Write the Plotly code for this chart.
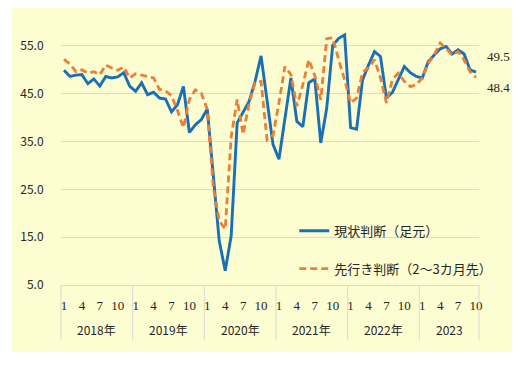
import plotly.graph_objects as go

# ---- data ----
years = ["2018年", "2019年", "2020年", "2021年", "2022年", "2023"]
months_per_year = [12, 12, 12, 12, 12, 10]
shown_months = [1, 4, 7, 10]

genjo = [  # 現状判断（足元）
    49.9, 48.6, 48.9, 49.0, 47.1, 48.1, 46.6, 48.6, 48.3, 48.5, 49.4, 46.6,
    45.5, 47.3, 44.8, 45.3, 44.1, 43.9, 41.2, 42.7, 46.5, 36.9, 38.5, 39.6,
    41.8, 28.0, 14.2, 8.0, 15.3, 38.9, 41.0, 43.4, 47.6, 52.9, 43.7, 34.4,
    31.3, 39.6, 48.3, 39.2, 38.1, 47.3, 48.1, 34.7, 42.0, 55.1, 56.6, 57.3,
    37.9, 37.6, 47.9, 51.0, 53.8, 52.8, 44.1, 45.3, 47.9, 50.7, 49.4, 48.6,
    48.3, 51.7, 53.1, 54.4, 54.9, 53.3, 54.2, 53.3, 50.0, 49.5,
]
sakiyuki = [  # 先行き判断（2～3カ月先）
    52.2, 51.2, 49.6, 50.0, 49.3, 49.6, 49.0, 51.0, 50.4, 49.9, 50.6, 48.3,
    49.2, 48.9, 48.5, 48.3, 45.9, 45.6, 44.6, 41.5, 37.9, 43.8, 45.8, 45.1,
    41.7, 25.5, 18.4, 16.7, 36.0, 43.8, 36.5, 43.0, 47.3, 47.6, 35.4, 36.3,
    43.1, 50.7, 49.0, 42.4, 46.9, 52.1, 48.8, 43.7, 56.5, 56.7, 52.1, 47.9,
    43.1, 44.1, 49.5, 50.4, 52.1, 48.3, 43.1, 48.0, 49.3, 47.6, 46.5, 46.9,
    48.3, 51.4, 53.1, 55.6, 54.5, 53.1, 53.8, 52.1, 49.6, 48.4,
]
series_names = ["現状判断（足元）", "先行き判断（2～3カ月先）"]

# ---- derived axis helpers ----
month_nums = []
group_bounds = []  # (start_index, end_index) per year
idx = 0
for n in months_per_year:
    group_bounds.append((idx, idx + n - 1))
    month_nums.extend(range(1, n + 1))
    idx += n
N = len(month_nums)
xs = list(range(N))
tickvals = [i for i, m in enumerate(month_nums) if m in shown_months]
ticktext = [str(month_nums[i]) for i in tickvals]

BLUE = "#1B6FB5"
ORANGE = "#EC7E35"
BG = "#FDFDD2"
GRID = "#D9D9D9"
TXT = "#262626"
FONT = "Noto Sans CJK JP"
SERIF = "Liberation Serif"

fig = go.Figure()
fig.add_trace(go.Scatter(
    x=xs, y=genjo, mode="lines", name=series_names[0],
    line=dict(color=BLUE, width=2.9), legendgroup="a"))
fig.add_trace(go.Scatter(
    x=xs, y=sakiyuki, mode="lines", name=series_names[1],
    line=dict(color=ORANGE, width=2.8, dash="7px,4px"), legendgroup="b"))

# end-value labels
fig.add_annotation(x=1, xref="paper", y=genjo[-1], yref="y", text=f"{genjo[-1]:.1f}",
                   showarrow=False, xanchor="left", xshift=6, yshift=16,
                   font=dict(size=13, color=TXT, family=SERIF))
fig.add_annotation(x=1, xref="paper", y=sakiyuki[-1], yref="y", text=f"{sakiyuki[-1]:.1f}",
                   showarrow=False, xanchor="left", xshift=6, yshift=-10,
                   font=dict(size=13, color=TXT, family=SERIF))

# year group labels and dividers (second category level)
for yname, (s, e) in zip(years, group_bounds):
    fig.add_annotation(x=(s + e) / 2, xref="x", y=-0.17, yref="paper", text=yname,
                       showarrow=False, xanchor="center", yanchor="middle",
                       font=dict(size=12, color=TXT, family=FONT))
bounds = [s for s, _ in group_bounds] + [N]
for b in bounds:
    fig.add_shape(type="line", xref="paper", yref="paper",
                  x0=b / N, x1=b / N, y0=0, y1=-0.21,
                  line=dict(color=GRID, width=1))

# chart-area backdrop
fig.add_shape(type="rect", xref="paper", yref="paper", x0=-0.117, x1=1.088,
              y0=-0.253, y1=1.053, fillcolor=BG, line=dict(width=0), layer="below")
# legend box backdrop (hides gridline behind legend)
fig.add_shape(type="rect", xref="paper", yref="y", x0=0.4976, x1=1.0,
              y0=5.6, y1=22, fillcolor=BG, line=dict(width=0), layer="between")

# page body has an 8px margin: figure is 8px smaller, left/top margins reduced
fig.update_layout(
    width=512, height=358,
    margin=dict(l=51, r=41, t=14, b=81),
    paper_bgcolor="white", plot_bgcolor=BG,
    font=dict(family=FONT, color=TXT, size=12),
    showlegend=True,
    legend=dict(x=0.558, y=0.263, xanchor="left", yanchor="top",
                bgcolor="rgba(0,0,0,0)", font=dict(size=13, color=TXT, family=FONT),
                traceorder="grouped", tracegroupgap=18),
)
fig.update_xaxes(range=[-0.5, N - 0.5], tickmode="array", tickvals=tickvals,
                 ticktext=ticktext, tickangle=0,
                 showline=True, linecolor=GRID, linewidth=1, showgrid=False,
                 zeroline=False, ticks="outside", ticklen=8,
                 tickcolor="rgba(0,0,0,0)",
                 tickfont=dict(size=13, color=TXT, family=SERIF))
fig.update_yaxes(range=[5, 60], tick0=5, dtick=10, tickformat=".1f",
                 showgrid=True, gridcolor=GRID, gridwidth=1, zeroline=False,
                 showline=False, ticks="outside", ticklen=14,
                 tickcolor="rgba(0,0,0,0)",
                 tickfont=dict(size=12, color=TXT, family=FONT))

fig.write_html("out.html")
